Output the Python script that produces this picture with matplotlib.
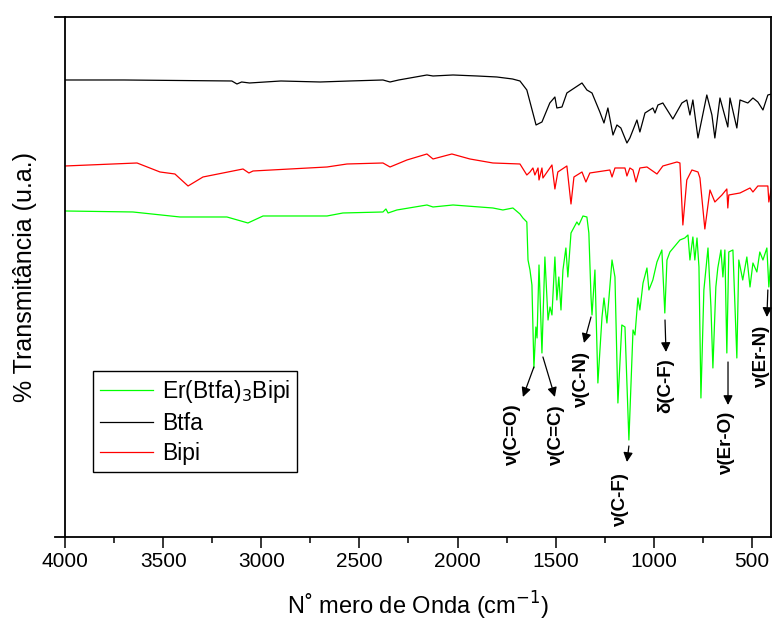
import matplotlib
matplotlib.use("Agg")
import matplotlib.pyplot as plt

plt.rcParams['font.family'] = ['Liberation Sans', 'DejaVu Sans']

# ============================================================
# DATA
# ============================================================
btfa_wn = [4000, 3700, 3150, 3124, 3100, 3060, 2900, 2700, 2550, 2380, 2344, 2300,
           2156, 2125, 2023, 1900, 1800, 1720, 1682, 1647, 1600, 1570, 1530, 1504,
           1494, 1468, 1443, 1366, 1341, 1315, 1275, 1254, 1234, 1208, 1188, 1168,
           1137, 1122, 1106, 1086, 1071, 1045, 1005, 994, 979, 954, 903, 857, 832,
           816, 801, 775, 730, 704, 689, 663, 623, 612, 577, 561, 521, 495, 470,
           444, 419, 400]
btfa_t = [91.4, 91.4, 91.2, 90.6, 91.0, 90.8, 91.2, 91.0, 91.2, 91.4, 91.0, 91.4,
          92.4, 92.2, 92.4, 92.2, 92.0, 91.6, 91.2, 89.4, 82.4, 83.0, 86.8, 88.0,
          85.8, 86.0, 88.8, 90.8, 89.4, 88.8, 85.0, 82.8, 85.8, 80.4, 82.4, 81.8,
          78.8, 79.8, 81.4, 83.4, 81.0, 84.8, 85.8, 84.8, 86.4, 86.8, 83.6, 86.8, 87.4,
          84.4, 87.4, 79.8, 88.4, 84.4, 79.8, 87.8, 82.0, 87.8, 81.8, 87.4, 86.8, 87.8, 87.0,
          85.4, 88.4, 88.6]

bipi_wn = [4000, 3633, 3516, 3440, 3373, 3297, 3093, 3063, 3042, 2665, 2563, 2380,
           2344, 2258, 2156, 2125, 2029, 1937, 1820, 1682, 1647, 1631, 1616, 1606,
           1590, 1585, 1570, 1565, 1519, 1504, 1489, 1443, 1422, 1407, 1366, 1346,
           1326, 1224, 1213, 1198, 1147, 1137, 1122, 1106, 1091, 1071, 1035, 984,
           954, 882, 867, 852, 832, 806, 775, 765, 740, 714, 689, 653, 628, 623,
           618, 561, 510, 495, 470, 419, 414, 400]
bipi_t = [74.2, 74.8, 73.0, 72.6, 70.2, 72.0, 73.6, 72.8, 73.2, 74.0, 74.6, 74.8,
          74.0, 75.4, 76.6, 75.6, 76.6, 75.6, 74.8, 74.6, 72.4, 73.0, 73.8, 72.4,
          73.8, 71.4, 73.8, 71.8, 74.4, 69.6, 73.0, 74.2, 66.6, 72.0, 73.0, 71.0,
          72.8, 73.4, 72.0, 73.8, 73.8, 72.2, 73.8, 73.4, 71.0, 73.8, 74.0, 72.6,
          74.2, 75.0, 74.8, 62.4, 71.4, 73.4, 73.0, 71.8, 61.6, 69.4, 67.0, 68.4, 69.6, 65.8,
          68.4, 68.8, 69.8, 69.0, 70.2, 70.2, 67.0, 70.0]

er_wn = [4000, 3654, 3414, 3175, 3068, 2991, 2665, 2584, 2380, 2365, 2354, 2309,
         2156, 2125, 2023, 1820, 1769, 1718, 1682, 1667, 1647, 1641, 1631, 1621,
         1611, 1601, 1595, 1585, 1570, 1555, 1539, 1529, 1519, 1504, 1494, 1484,
         1473, 1463, 1448, 1438, 1422, 1392, 1382, 1361, 1341, 1331, 1320, 1315,
         1300, 1285, 1264, 1254, 1239, 1213, 1198, 1183, 1163, 1147, 1127, 1106,
         1096, 1081, 1071, 1055, 1035, 1025, 1005, 984, 959, 944, 933, 918, 867,
         842, 826, 816, 801, 791, 780, 770, 760, 745, 724, 709, 699, 684, 674,
         658, 648, 638, 628, 618, 597, 577, 567, 547, 526, 510, 495, 475, 460,
         444, 424, 414, 400]
er_t = [65.2, 65.0, 64.0, 64.0, 62.8, 64.2, 64.2, 64.8, 65.0, 65.6, 64.8, 65.4,
        66.4, 66.0, 66.4, 65.8, 65.4, 65.8, 64.6, 63.8, 63.0, 55.4, 53.4, 50.4,
        33.8, 42.0, 39.8, 54.4, 36.8, 56.0, 43.4, 46.0, 44.4, 56.0, 47.4, 52.0,
        45.4, 53.4, 57.8, 52.0, 60.8, 63.0, 62.4, 64.2, 64.0, 60.8, 48.0, 44.4,
        53.4, 30.8, 44.0, 47.8, 42.8, 55.4, 52.0, 26.8, 42.4, 42.0, 19.4, 41.4,
        40.4, 47.8, 45.4, 50.8, 53.8, 49.4, 51.4, 55.0, 57.4, 44.8, 55.4, 57.0, 59.4,
        59.8, 60.4, 55.4, 60.0, 55.4, 59.8, 54.0, 27.8, 49.4, 57.8, 46.0, 33.8, 50.0, 53.8,
        57.4, 52.0, 57.4, 36.8, 57.0, 57.4, 35.8, 55.4, 51.4, 56.0, 50.0, 54.8, 53.0, 57.0,
        55.4, 57.8, 50.0, 57.4]

# band assignments: label, text position, arrow start, arrow end
band_labels = [r"ν(C=O)", r"ν(C=C)", r"ν(C-N)", r"ν(C-F)", r"δ(C-F)", r"ν(Er-O)", r"ν(Er-N)"]
band_text_xy = [(1718, 20.4), (1494, 20.2), (1366, 31.4), (1168, 7.4),
                (938, 30.2), (628, 18.8), (449, 36.0)]
band_arrow_from = [(1611, 34.0), (1565, 36.0), (1320, 44.0), (1127, 18.2),
                   (943, 43.4), (622, 35.0), (419, 49.4)]
band_arrow_to = [(1667, 28.0), (1504, 28.0), (1356, 38.8), (1137, 15.0),
                 (938, 37.0), (622, 26.4), (424, 44.0)]

# ============================================================
# PLOT
# ============================================================
fig = plt.figure(figsize=(7.72, 6.2), dpi=100)
ax = fig.add_axes([0.0842, 0.1339, 0.9145, 0.8387])

ax.plot(er_wn, er_t, color='#00ff00', lw=0.9, label=r"Er(Btfa)$_3$Bipi")
ax.plot(btfa_wn, btfa_t, color='black', lw=0.9, label="Btfa")
ax.plot(bipi_wn, bipi_t, color='#ff0000', lw=0.9, label="Bipi")

for lab, txy, a0, a1 in zip(band_labels, band_text_xy, band_arrow_from, band_arrow_to):
    ax.text(txy[0], txy[1], lab, rotation=90, ha='center', va='center',
            fontsize=13.5, fontweight='bold')
    ax.annotate('', xy=a1, xytext=a0,
                arrowprops=dict(arrowstyle='-|>', color='black', lw=0.9,
                                mutation_scale=14, shrinkA=0, shrinkB=0))

ax.set_xlim(4000, 403)
ax.set_ylim(0, 104)
ax.set_xticks([4000, 3500, 3000, 2500, 2000, 1500, 1000, 500])
ax.set_xticks([3750, 3250, 2750, 2250, 1750, 1250, 750], minor=True)
ax.set_yticks([])
ax.tick_params(axis='x', which='major', direction='out', length=8, width=1.1,
               labelsize=15, pad=3)
ax.tick_params(axis='x', which='minor', direction='out', length=4, width=1.1)
for sp in ax.spines.values():
    sp.set_linewidth(1.3)

# Origin-style spine stubs left of the frame
ax.plot([-0.014, 0], [0, 0], color='black', lw=1.3, transform=ax.transAxes, clip_on=False)
ax.plot([-0.014, 0], [1, 1], color='black', lw=1.3, transform=ax.transAxes, clip_on=False)

ax.set_xlabel("N˚ mero de Onda (cm$^{-1}$)", fontsize=17, labelpad=13)
ax.set_ylabel("% Transmitância (u.a.)", fontsize=18, labelpad=20)

leg = ax.legend(loc='lower left', bbox_to_anchor=(0.040, 0.125), borderaxespad=0,
                fontsize=16.5, fancybox=False, edgecolor='black', framealpha=1,
                handlelength=2.3, handletextpad=0.4, labelspacing=0.3,
                borderpad=0.3)
leg.get_frame().set_linewidth(1.0)

fig.savefig("out.png", dpi=100)
